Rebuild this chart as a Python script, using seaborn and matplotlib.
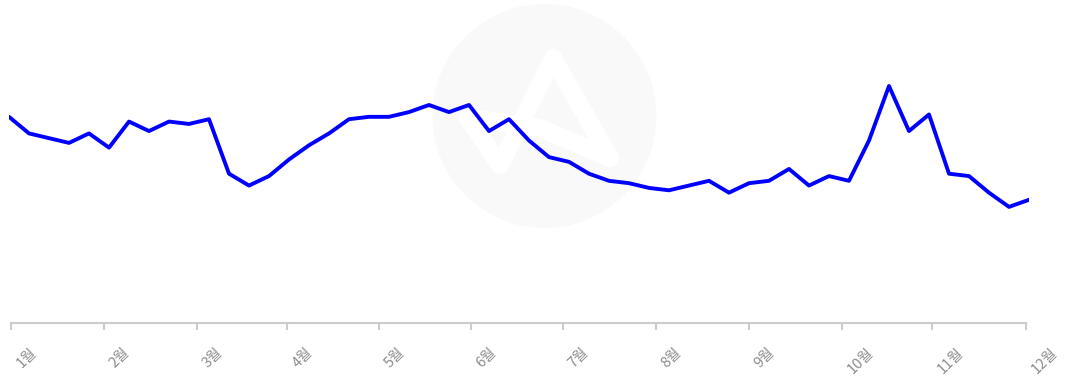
import numpy as np
import pandas as pd
import matplotlib
matplotlib.use("Agg")
import matplotlib.pyplot as plt
import matplotlib.transforms as mtransforms
from matplotlib.patches import Ellipse
import seaborn as sns

# weekly index values (peak = 100)
weeks = list(range(52))
values = [87, 80, 78, 76, 80, 74, 85, 81, 85, 84, 86, 63, 58, 62, 69, 75,
          80, 86, 87, 87, 89, 92, 89, 92, 81, 86, 77, 70, 68, 63, 60, 59,
          57, 56, 58, 60, 55, 59, 60, 65, 58, 62, 60, 77, 100, 81, 88, 63,
          62, 55, 49, 52]
month_labels = ["1월", "2월", "3월", "4월", "5월", "6월", "7월", "8월",
                "9월", "10월", "11월", "12월"]
month_pos = [0.1, 4.75, 9.4, 13.9, 18.5, 23.1, 27.7, 32.35, 37.0, 41.65,
             46.15, 50.85]

df = pd.DataFrame({"week": weeks, "value": values})

sns.set_style("white")
plt.rcParams["font.family"] = ["Noto Sans CJK KR", "DejaVu Sans"]

fig = plt.figure(figsize=(10.65, 3.78), dpi=100)

# watermark circle + logo behind the chart
fig.patches.append(Ellipse((544.5 / 1065, 1 - 116 / 378), 224 / 1065, 224 / 378,
                           transform=fig.transFigure, facecolor="#f9f9f9",
                           edgecolor="none", zorder=0))
lx = np.array([468, 500, 553, 610, 540, 468]) / 1065
ly = 1 - np.array([118, 165, 58, 158, 128, 118]) / 378
fig.lines.append(plt.Line2D(lx, ly, transform=fig.transFigure, color="white",
                            lw=13, solid_joinstyle="round", solid_capstyle="round",
                            zorder=0.5))

ax = fig.add_axes([9 / 1065, 55 / 378, 1020 / 1065, 323 / 378])
ax.set_facecolor("none")
ax.set_zorder(1)

sns.lineplot(data=df, x="week", y="value", ax=ax, color="#0000ff", linewidth=2.8)

ax.set_xlim(0, 51)
ax.set_ylim(0, 136.3)
ax.set_xlabel("")
ax.set_ylabel("")
ax.set_yticks([])

for side in ["top", "right", "left"]:
    ax.spines[side].set_visible(False)
ax.spines["bottom"].set_color("#cccccc")
ax.spines["bottom"].set_linewidth(1.5)
ax.spines["bottom"].set_bounds(month_pos[0], month_pos[-1])

ax.set_xticks(month_pos)
ax.set_xticklabels(month_labels)
ax.tick_params(axis="x", direction="out", length=5, width=1.5, color="#cccccc",
               pad=11, labelsize=10.5, labelcolor="#8c8c8c", bottom=True)
offset = mtransforms.ScaledTranslation(3 / 100, 0, fig.dpi_scale_trans)
for lbl in ax.get_xticklabels():
    lbl.set_rotation(45)
    lbl.set_ha("left")
    lbl.set_va("top")
    lbl.set_transform(lbl.get_transform() + offset)

fig.savefig("out.png", dpi=100)
